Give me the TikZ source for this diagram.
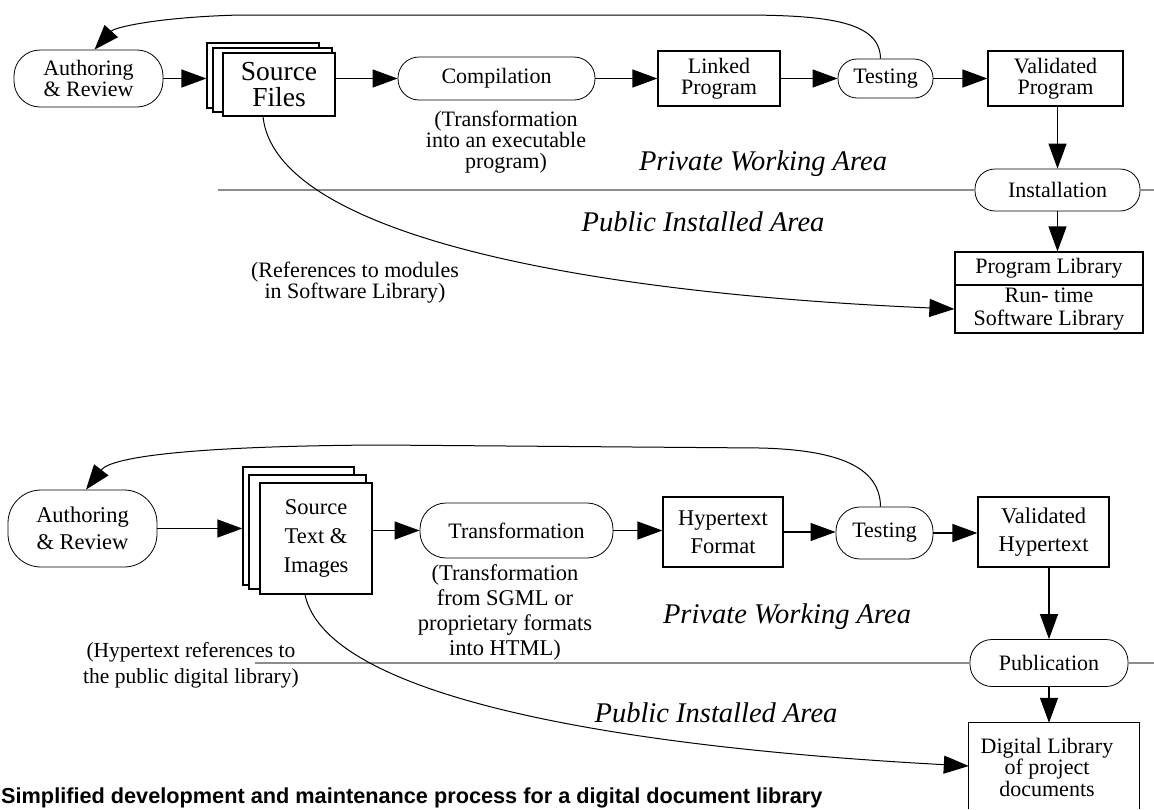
\documentclass[tikz,border=0pt]{standalone}
\usepackage{fontspec}
\setmainfont{Liberation Serif}
\newfontfamily\capsans{Liberation Sans}
\usetikzlibrary{arrows.meta}
\newcommand\fA{\fontsize{22}{21}\selectfont}
\newcommand\fB{\fontsize{22.5}{27}\selectfont}
\newcommand\fSrc{\fontsize{27.5}{26}\selectfont}
\newcommand\fArea{\fontsize{28.5}{30}\selectfont\itshape}
\newcommand\fCap{\capsans\bfseries\fontsize{21.7}{24}\selectfont}
\begin{document}
\begin{tikzpicture}[x=1pt,y=-1pt,
  stad/.style={draw, line width=0.8pt, fill=white, rounded corners=#1pt, inner sep=0pt, align=center},
  box/.style={draw, line width=1.2pt, fill=white, inner sep=0pt, align=center},
  arr/.style={line width=1.2pt, -{Triangle[length=25pt,width=18pt]}},
  curvearr/.style={line width=1pt, -{Triangle[length=25pt,width=18pt]}},
  grayline/.style={draw=black!45, line width=1.1pt},
  note/.style={inner sep=0pt, align=center, font=\fA},
  area/.style={inner sep=0pt, font=\fArea}]
\useasboundingbox (0,0) rectangle (1154,809);

% ---------------- top diagram ----------------
\node[stad=26, minimum width=149pt, minimum height=57pt, font=\fA] (auth1) at (88.5,78.5) {Authoring\\\& Review};
\node[box, minimum width=112pt, minimum height=65pt] (src1b) at (263,75.5) {};
\node[box, minimum width=119pt, minimum height=64pt] (src1m) at (272.5,80) {};
\node[box, minimum width=112pt, minimum height=63pt, font=\fSrc] (src1) at (279,84.5) {Source\\Files};
\node[stad=21, minimum width=197pt, minimum height=43pt, font=\fA] (comp) at (496.5,78.5) {Compilation};
\node[box, minimum width=122pt, minimum height=55pt, font=\fA] (link) at (719,78.5) {Linked\\Program};
\node[stad=19, minimum width=95pt, minimum height=39pt, font=\fA] (test1) at (885.5,78.5) {Testing};
\node[box, minimum width=135pt, minimum height=55pt, font=\fA] (valid1) at (1055.5,78.5) {Validated\\Program};
\node[stad=20, minimum width=165pt, minimum height=42pt, font=\fA] (inst) at (1057.5,190) {Installation};
\node[box, minimum width=188pt, minimum height=33pt, font=\fA] (libA) at (1049,268.5) {Program Library};
\node[box, minimum width=188pt, minimum height=48pt, font={\fontsize{22}{23}\selectfont}] (libB) at (1049,309) {Run- time\\Software Library};

\node[note] (n1) at (506,142) {(Transformation\\into an executable\\program)};
\node[note] (n2) at (355,283) {(References to modules\\in Software Library)};
\node[area] (pw1) at (763,164) {Private Working Area};
\node[area] (pi1) at (703,222) {Public Installed Area};

\coordinate (g1a) at (218,190);
\coordinate (g1b) at (1154,190);
\draw[grayline] (g1a) -- (inst.west);
\draw[grayline] (inst.east) -- (g1b);

\draw[arr] (auth1.east) -- (auth1.east -| src1b.west);
\draw[arr] (comp.west -| src1.east) -- (comp.west);
\draw[arr] (comp) -- (link);
\draw[arr] (link) -- (test1);
\draw[arr] (test1) -- (valid1);
\draw[arr] (valid1.south -| inst.north) -- (inst.north);
\draw[arr] (inst.south) -- (inst.south |- libA.north);
\draw[curvearr] ([xshift=-16pt]src1.south) .. controls (275,230) and (560,292) .. (libB.west);
\draw[curvearr] ([xshift=-5pt]test1.north) .. controls (880,22) and (830,15) .. (740,15)
  -- (240,15) .. controls (160,17) and (115,27) .. ([xshift=6pt]auth1.north);

% ---------------- bottom diagram ----------------
\node[stad=33, minimum width=149pt, minimum height=77pt, font=\fB] (auth2) at (82.5,528.5) {Authoring\\\& Review};
\node[box, minimum width=111pt, minimum height=118pt] (src2b) at (298.5,526) {};
\node[box, minimum width=117pt, minimum height=114pt] (src2m) at (307.5,532) {};
\node[box, minimum width=112pt, minimum height=111pt, font={\fontsize{22.5}{29}\selectfont}] (src2) at (316,538.5) {Source\\Text \&\\Images};
\node[stad=26, minimum width=193pt, minimum height=55pt, font=\fA] (trans2) at (516.5,530.5) {Transformation};
\node[box, minimum width=120pt, minimum height=70pt, font={\fontsize{22.5}{28}\selectfont}] (hyp) at (723,532) {Hypertext\\Format};
\node[stad=24, minimum width=97pt, minimum height=52pt, font=\fA] (test2) at (884.5,533) {Testing};
\node[box, minimum width=131pt, minimum height=70pt, font={\fontsize{22.5}{28}\selectfont}] (valid2) at (1043.5,532) {Validated\\Hypertext};
\node[stad=22, minimum width=158pt, minimum height=47pt, font=\fA] (pub) at (1049,663) {Publication};
\node[inner sep=0pt, minimum width=170pt, minimum height=86pt] (dlib) at (1054,766) {};
\node[note, font={\fontsize{22}{21.5}\selectfont}] (dlibt) at (1047,767) {Digital Library\\of project\\documents};
\draw[line width=1.2pt] (dlib.south west) -- (dlib.north west) -- (dlib.north east) -- (dlib.south east);

\node[note, font={\fontsize{22.5}{25}\selectfont}] (n3) at (505,612) {(Transformation\\from SGML or\\proprietary formats\\into HTML)};
\node[note, font={\fontsize{21.5}{26}\selectfont}] (n4) at (191,665) {(Hypertext references to\\the public digital library)};
\node[area] (pw2) at (787,617) {Private Working Area};
\node[area] (pi2) at (716,713) {Public Installed Area};

\coordinate (g2a) at (255,663);
\coordinate (g2b) at (1154,663);
\draw[grayline] (g2a) -- (pub.west);
\draw[grayline] (pub.east) -- (g2b);

\draw[arr] (auth2.east) -- (auth2.east -| src2b.west);
\draw[arr] (trans2.west -| src2.east) -- (trans2.west);
\draw[arr] (trans2.east) -- (trans2.east -| hyp.west);
\draw[arr] (hyp.east) -- (hyp.east -| test2.west);
\draw[arr] (test2.east) -- (test2.east -| valid2.west);
\draw[arr] (valid2.south -| pub.north) -- (pub.north);
\draw[arr] (pub.south) -- (pub.south |- dlib.north);
\draw[curvearr] ([xshift=-11pt]src2.south) .. controls (325,690) and (580,745) .. (dlib.west);
\draw[curvearr] ([xshift=-4pt]test2.north) .. controls (880,470) and (845,450) .. (760,448)
  -- (380,445) .. controls (200,446) and (112,456) .. ([xshift=3.5pt]auth2.north);

% caption
\node[anchor=base west, inner sep=0pt, font=\fCap] (cap) at (1,803.5) {Simplified development and maintenance process for a digital document library};
\end{tikzpicture}
\end{document}
